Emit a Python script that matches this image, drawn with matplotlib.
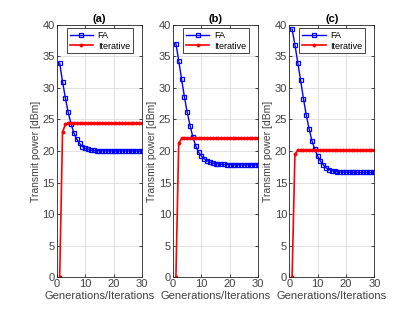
import matplotlib
matplotlib.use('Agg')
import matplotlib.pyplot as plt

plt.rcParams['font.family'] = ['Liberation Sans', 'DejaVu Sans']

# Data
gens = list(range(1, 31))

fa_a = [33.9, 31.0, 28.4, 26.1, 24.3, 22.85, 21.9, 21.2, 20.7, 20.4, 20.25, 20.15, 20.1, 20.06, 20.04,
        20.03, 20.02, 20.02, 20.01, 20.01, 20.0, 20.0, 20.0, 20.0, 20.0, 20.0, 20.0, 20.0, 20.0, 20.0]
it_a = [0.0, 23.0, 24.2, 24.4, 24.4, 24.4, 24.4, 24.4, 24.4, 24.4, 24.4, 24.4, 24.4, 24.4, 24.4,
        24.4, 24.4, 24.4, 24.4, 24.4, 24.4, 24.4, 24.4, 24.4, 24.4, 24.4, 24.4, 24.4, 24.4, 24.4]

fa_b = [37.0, 34.3, 31.4, 28.6, 26.1, 24.0, 22.2, 20.8, 19.8, 19.2, 18.75, 18.45, 18.25, 18.1, 18.0,
        17.95, 17.9, 17.87, 17.85, 17.83, 17.82, 17.81, 17.8, 17.8, 17.8, 17.8, 17.8, 17.8, 17.8, 17.8]
it_b = [0.0, 21.2, 22.0, 22.0, 22.0, 22.0, 22.0, 22.0, 22.0, 22.0, 22.0, 22.0, 22.0, 22.0, 22.0,
        22.0, 22.0, 22.0, 22.0, 22.0, 22.0, 22.0, 22.0, 22.0, 22.0, 22.0, 22.0, 22.0, 22.0, 22.0]

fa_c = [39.3, 36.8, 34.0, 31.2, 28.3, 25.7, 23.5, 21.6, 20.3, 19.2, 18.4, 17.8, 17.35, 17.05, 16.9,
        16.8, 16.72, 16.68, 16.65, 16.63, 16.62, 16.61, 16.6, 16.6, 16.6, 16.6, 16.6, 16.6, 16.6, 16.6]
it_c = [0.0, 19.5, 20.1, 20.1, 20.1, 20.1, 20.1, 20.1, 20.1, 20.1, 20.1, 20.1, 20.1, 20.1, 20.1,
        20.1, 20.1, 20.1, 20.1, 20.1, 20.1, 20.1, 20.1, 20.1, 20.1, 20.1, 20.1, 20.1, 20.1, 20.1]

titles = ['(a)', '(b)', '(c)']
fa_all = [fa_a, fa_b, fa_c]
it_all = [it_a, it_b, it_c]

fig = plt.figure(figsize=(4.15, 3.12), dpi=100)
lefts = [0.137, 0.417, 0.697]
dark = '#262626'

for i in range(3):
    ax = fig.add_axes([lefts[i], 0.111, 0.205, 0.81])
    ax.plot(gens, fa_all[i], '-s', color='blue', lw=1.0, ms=3.2, mfc='none', mew=0.9, label='FA')
    ax.plot(gens, it_all[i], '-', color='red', lw=1.2, marker='.', ms=3.5, label='Iterative')
    ax.set_xlim(0, 30)
    ax.set_ylim(0, 40)
    ax.set_xticks([0, 10, 20, 30])
    ax.set_yticks(range(0, 41, 5))
    ax.grid(True, color='#dcdcdc', lw=0.6)
    ax.set_axisbelow(True)
    ax.tick_params(direction='in', length=2.5, labelsize=8, colors=dark, labelcolor='#404040',
                   top=True, right=True, width=0.6, pad=1.5)
    for s in ax.spines.values():
        s.set_color(dark)
        s.set_linewidth(0.6)
    ax.set_title(titles[i], fontsize=8, fontweight='bold', pad=2)
    ax.set_xlabel('Generations/Iterations', fontsize=8, color='#404040', labelpad=1)
    ax.set_ylabel('Transmit power [dBm]', fontsize=7.5, color='#404040', labelpad=1)
    leg = ax.legend(loc='upper right', bbox_to_anchor=(0.89, 0.985), fontsize=6.5,
                    fancybox=False, framealpha=1, edgecolor=dark, handlelength=2.6,
                    borderpad=0.3, labelspacing=0.15, handletextpad=0.5, borderaxespad=0)
    leg.get_frame().set_linewidth(0.6)

fig.savefig('out.png', dpi=100)
